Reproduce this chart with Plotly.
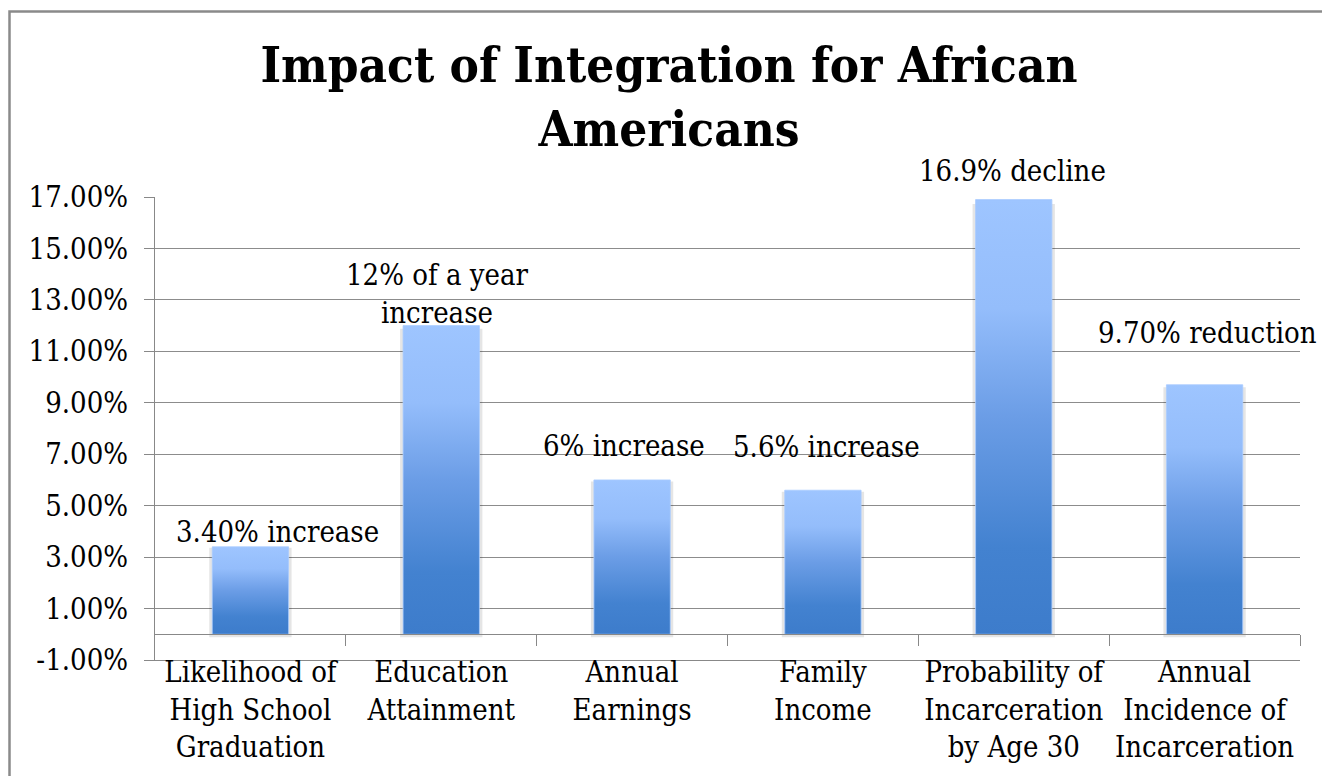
import plotly.graph_objects as go

categories = ["Likelihood of<br>High School<br>Graduation", "Education<br>Attainment",
              "Annual<br>Earnings", "Family<br>Income",
              "Probability of<br>Incarceration<br>by Age 30", "Annual<br>Incidence of<br>Incarceration"]
values = [3.4, 12.0, 6.0, 5.6, 16.9, 9.7]
labels = ["3.40% increase", "12% of a year<br>increase", "6% increase",
          "5.6% increase", "16.9% decline", "9.70% reduction"]
label_dx = [27, -4, -8, 4, -1, 3]
label_dy = [15, 32, 34, 43, 29, 52]
y_ticks = [-1, 1, 3, 5, 7, 9, 11, 13, 15, 17]

FONT = "DejaVu Serif Condensed, DejaVu Serif, Liberation Serif, serif"
half = 0.2
grad = [[0, "#3D7CCB"], [0.2, "#4382D0"], [0.5, "#6B9DE6"], [0.75, "#94BDFB"], [1, "#9EC5FF"]]

W, H = 1322, 768
ML, MR, MT, MB = 147, 30, 189, 111
PW, PH = W - ML - MR, H - MT - MB

fig = go.Figure()
for i, v in enumerate(values):
    # soft shadow along the sides and bottom of the bar
    fig.add_trace(go.Scatter(
        x=[i - half, i - half, i + half, i + half],
        y=[v * 0.99, 0, 0, v * 0.99],
        mode="lines", line=dict(width=6, color="rgba(0,0,0,0.10)"),
        hoverinfo="skip", showlegend=False,
    ))
    fig.add_trace(go.Scatter(
        x=[i - half, i - half, i + half, i + half, i - half],
        y=[0, v, v, 0, 0],
        fill="toself", mode="lines", line=dict(width=0.8, color="#A9CBFF"),
        fillgradient=dict(type="vertical", colorscale=grad),
        hoverinfo="skip", showlegend=False,
    ))
# helper trace for the zero axis with category separators
fig.add_trace(go.Scatter(x=list(range(len(values))), y=values, xaxis="x2",
                         mode="markers", marker=dict(opacity=0), hoverinfo="skip",
                         showlegend=False))

for i, (v, t) in enumerate(zip(values, labels)):
    fig.add_annotation(x=i, y=v, text=t, showarrow=False, xanchor="center",
                       yanchor="middle", xshift=label_dx[i], yshift=label_dy[i],
                       font=dict(family=FONT, size=29, color="#000000"))

fig.update_layout(
    width=W, height=H,
    margin=dict(l=ML, r=MR, t=MT, b=MB),
    paper_bgcolor="white", plot_bgcolor="white",
    title=dict(text="<b>Impact of Integration for African<br>Americans</b>",
               x=0.5, xanchor="center", y=0.903, yanchor="middle",
               font=dict(family=FONT, size=49, color="#000000")),
    xaxis=dict(range=[-0.5, 5.5], tickvals=list(range(len(categories))),
               ticktext=categories, showgrid=False, zeroline=False,
               showline=True, linecolor="#888888", linewidth=1.3, ticks="",
               ticklabelstandoff=-14,
               tickfont=dict(family=FONT, size=29, color="#000000")),
    xaxis2=dict(range=[-0.5, 5.5], overlaying="x", anchor="free",
                position=1 / 18, side="bottom", showgrid=False, zeroline=False,
                showline=True, linecolor="#888888", linewidth=1.3,
                ticks="outside", ticklen=11, tickcolor="#888888", tickwidth=1.3,
                tickvals=[0.5, 1.5, 2.5, 3.5, 4.5, 5.5], showticklabels=False),
    yaxis=dict(range=[-1, 17], tickvals=y_ticks,
               ticktext=[f"{t:.2f}%" for t in y_ticks],
               showgrid=True, gridcolor="#8C8C8C", gridwidth=1.3,
               zeroline=False, showline=True, linecolor="#888888", linewidth=1.3,
               ticks="outside", ticklen=10, tickcolor="#888888", tickwidth=1.3,
               ticklabelstandoff=10,
               tickfont=dict(family=FONT, size=29, color="#000000")),
    shapes=[dict(type="rect", xref="paper", yref="paper",
                 x0=(1.5 - ML) / PW, x1=(W + 20 - ML) / PW,
                 y0=-(MB + 20) / PH, y1=(PH + MT - 1.5) / PH,
                 line=dict(color="#8A8A8A", width=2.5), layer="below")],
)

fig.write_html("out.html")
